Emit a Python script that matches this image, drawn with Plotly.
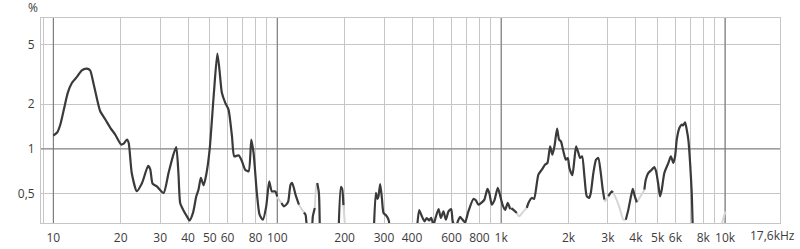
import plotly.graph_objects as go
import math

# ---- data (frequency in Hz, THD in %, 1 = solid reading, 0 = faint reading) ----
freq = [10, 10.4, 10.75, 11.1, 11.6, 12.1, 12.8, 13.4, 14.1, 14.6, 15.1, 15.7, 16.2, 17.1, 18.0, 18.9,
        20.1, 20.6, 21.3, 21.7, 22.4, 23.6, 24.9, 26.5, 27.1, 27.75, 29.0, 31.1, 32.7, 34.4, 35.4, 36.2,
        36.9, 38.2, 39.5, 40.6, 42.05, 43.5, 44.5, 45.6, 46.9, 48.2, 49.9, 52.0, 54.0, 55.2, 56.6, 58.6,
        60.6, 62.8, 64.3, 67.2, 69.6, 71.9, 74.5, 76.6, 78.4, 81.1, 83.4, 86.3, 89.3, 92.1, 94.6, 98.0,
        100, 101.8, 104.5, 107.1, 109.7, 112, 114.7, 116.7, 120.7, 125, 128.4, 131.6, 133.8, 137, 142,
        144.2, 147.2, 149.3, 150.9, 153.5, 155, None,
        188, 192.5, 195, 197.5, 200, 202, None,
        270, 275.8, 280.4, 283.3, 288.3, 293.4, 298.3, 305.5, 314, 320, None,
        420, 430.5, 442.6, 454.6, 465.7, 477, 487, 498.6, 511, 525.5, 538.3, 552.6, 566.8, 582, 598.4,
        608, 625, 645, 656, 667, 690, 714, 752, 771, 792, 820, 842, 868.6, 886.8, 908.5, 933, 966, 990,
        1018, 1042, 1071, 1097, 1110, 1135, 1175, 1203, 1258, 1302, 1324, 1371, 1403, 1467, 1520, 1572,
        1610, 1655, 1694, 1730, 1778, 1815, 1850, 1897, 1945, 1985, 2018, 2080, 2124, 2162, 2214, 2253,
        2300, 2355, 2413, 2472, 2515, 2582, 2655, 2717, 2786, 2844, 2892, 2913, 3013, 3120, 3160, 3228,
        3365, 3516, 3604, 3698, 3802, 3873, 3935, 4035, 4102, 4246, 4362, 4426, 4546, 4709, 4832, 4920,
        5036, 5126, 5217, 5358, 5585, 5728, 5875, 5984, 6088, 6253, 6409, 6500, 6630, 6745, 6857, 6982,
        7100, 7180, None,
        9550, 9826, 10050]

thd = [1.23, 1.29, 1.46, 1.79, 2.38, 2.77, 3.07, 3.37, 3.46, 3.37, 2.77, 2.14, 1.79, 1.57, 1.38, 1.25,
       1.07, 1.085, 1.155, 1.10, 0.69, 0.52, 0.59, 0.77, 0.73, 0.585, 0.56, 0.507, 0.69, 0.92, 1.03, 0.69,
       0.43, 0.385, 0.353, 0.331, 0.372, 0.481, 0.533, 0.639, 0.57, 0.673, 0.99, 2.25, 4.36, 3.41, 2.38, 2.04,
       1.835, 1.215, 0.892, 0.906, 0.826, 0.726, 0.708, 1.155, 0.94, 0.507, 0.362, 0.335, 0.412, 0.606, 0.519, 0.519,
       0.48, 0.457, 0.434, 0.412, 0.423, 0.445, 0.576, 0.591, 0.494, 0.423, 0.396, 0.375, 0.362, 0.28, 0.28,
       0.353, 0.402, 0.561, 0.591, 0.507, 0.28, None,
       0.28, 0.556, 0.54, 0.42, 0.33, 0.28, None,
       0.28, 0.507, 0.462, 0.48, 0.582, 0.469, 0.372, 0.36, 0.335, 0.28, None,
       0.28, 0.388, 0.353, 0.327, 0.344, 0.331, 0.345, 0.31, 0.35, 0.395, 0.344, 0.381, 0.335, 0.381, 0.395,
       0.327, 0.30, 0.335, 0.35, 0.34, 0.322, 0.381, 0.462, 0.452, 0.423, 0.438, 0.457, 0.539, 0.501, 0.423, 0.452, 0.548, 0.486,
       0.416, 0.39, 0.434, 0.395, 0.40, 0.39, 0.372, 0.353, 0.381, 0.402, 0.434, 0.469, 0.462, 0.673, 0.726, 0.785,
       0.806, 1.04, 0.916, 1.04, 1.368, 1.155, 1.125, 0.964, 0.848, 0.87, 0.746, 0.666, 0.848, 1.04, 0.94, 0.87,
       0.892, 0.655, 0.481, 0.469, 0.507, 0.69, 0.848, 0.87, 0.69, 0.533, 0.457, 0.445, 0.481, 0.519, 0.51, 0.481,
       0.412, 0.335, 0.335, 0.39, 0.481, 0.539, 0.494, 0.438, 0.457, 0.494, 0.533, 0.622, 0.69, 0.726, 0.757, 0.708,
       0.576, 0.481, 0.533, 0.69, 0.806, 0.892, 0.806, 0.892, 1.155, 1.383, 1.456, 1.44, 1.508, 1.347, 1.155, 0.806,
       0.507, 0.28, None,
       0.28, 0.344, 0.38]

solid = [1] * 64 + \
        [1, 0, 0, 1, 1, 1, 1, 1, 1, 1, 0, 0, 1, 1, 1,
         1, 1, 0, 0, 1, 1, 1,
         1, 1, 1, 1, 0, 0, 1,
         1, 1, 1, 1, 1, 1, 1, 1, 1, 1, 1,
         1, 1, 1, 1, 1, 1, 1, 1, 1, 1, 1, 1, 1, 1, 1,
         1, 1, 1, 1, 1, 1, 1, 1, 1, 1, 1, 1, 1, 1, 1, 1, 1, 1,
         1, 1, 1, 1, 0, 1, 1, 0, 0, 0, 1, 1, 1, 1, 1, 1,
         1, 1, 1, 1, 1, 1, 1, 1, 1, 1, 1, 1, 1, 1, 1, 1,
         1, 1, 1, 1, 1, 1, 1, 1, 1, 1, 1, 0, 0, 1, 1, 0,
         0, 0, 0, 1, 1, 1, 1, 1, 0, 0, 0, 1, 1, 1, 1, 1,
         1, 1, 1, 1, 1, 1, 1, 1, 1, 1, 1, 1, 1, 1, 1, 1,
         1, 1, 1,
         0, 0, 0]

x_tick_vals = [9, 10, 20, 30, 40, 50, 60, 70, 80, 90, 100, 200, 300, 400, 500, 600, 700, 800, 900,
               1000, 2000, 3000, 4000, 5000, 6000, 7000, 8000, 9000, 10000]
x_tick_text = ["", "10", "20", "30", "40", "50", "60", "", "80", "", "100", "200", "300", "400", "",
               "600", "", "800", "", "1k", "2k", "3k", "4k", "5k", "6k", "", "8k", "", "10k"]
x_end_label = "17,6kHz"
y_tick_vals = [0.5, 1, 2, 5]
y_tick_text = ["0,5", "1", "2", "5"]
decades = [10, 100, 1000, 10000]

# ---- split into solid / faint runs ----
def split_runs(xs, ys, q):
    out = {1: ([], []), 0: ([], [])}
    for i in range(1, len(xs)):
        if xs[i] is None or xs[i - 1] is None:
            continue
        tx, ty = out[q[i]]
        if tx and tx[-1] == xs[i - 1]:
            tx.append(xs[i]); ty.append(ys[i])
        else:
            if tx:
                tx.append(None); ty.append(None)
            tx.extend([xs[i - 1], xs[i]]); ty.extend([ys[i - 1], ys[i]])
    return out

runs = split_runs(freq, thd, solid)

YLO, YHI = -0.497, 0.879
XLO, XHI = math.log10(8.81), math.log10(17600)

fig = go.Figure()

# darker decade / 1% reference lines
vx, vy = [], []
for d in decades:
    vx += [d, d, None]
    vy += [10 ** YLO, 10 ** YHI, None]
fig.add_trace(go.Scatter(x=vx, y=vy, mode="lines", line=dict(color="#6f6f6f", width=1),
                         hoverinfo="skip", showlegend=False))
fig.add_trace(go.Scatter(x=[10 ** XLO, 10 ** XHI], y=[1, 1], mode="lines",
                         line=dict(color="#7a7a7a", width=1), hoverinfo="skip", showlegend=False))

fig.add_trace(go.Scatter(x=runs[0][0], y=runs[0][1], mode="lines",
                         line=dict(color="#d6d6d6", width=2, shape="spline", smoothing=0.6),
                         hoverinfo="skip", showlegend=False))
fig.add_trace(go.Scatter(x=runs[1][0], y=runs[1][1], mode="lines",
                         line=dict(color="#3a3a3a", width=2.2, shape="spline", smoothing=0.6),
                         hoverinfo="skip", showlegend=False))

font = dict(family="Open Sans, Noto Sans, sans-serif", size=12, color="#3c3c3c")

fig.update_layout(
    template="none",
    width=800, height=249,
    margin=dict(l=41, r=20, t=18, b=26, pad=0),
    paper_bgcolor="white", plot_bgcolor="white",
    font=font,
    xaxis=dict(type="log", range=[XLO, XHI], tickmode="array", tickvals=x_tick_vals,
               ticktext=x_tick_text, showgrid=True, gridcolor="#c6c6c6", gridwidth=1,
               zeroline=False, showline=True, linecolor="#c6c6c6", linewidth=1, mirror=True,
               ticks="", ticklabelstandoff=4, automargin=False, tickfont=font, fixedrange=True),
    yaxis=dict(type="log", range=[YLO, YHI], tickmode="array", tickvals=y_tick_vals,
               ticktext=y_tick_text, showgrid=True, gridcolor="#c6c6c6", gridwidth=1,
               zeroline=False, showline=True, linecolor="#c6c6c6", linewidth=1, mirror=True,
               ticks="", ticklabelstandoff=3, automargin=False, tickfont=font, fixedrange=True),
    annotations=[
        dict(text="%", xref="paper", yref="paper", x=-0.011, y=1.05,
             xanchor="center", yanchor="middle", showarrow=False, font=font),
        dict(text=x_end_label, xref="paper", yref="paper", x=1.0235, y=-0.063,
             xanchor="right", yanchor="middle", showarrow=False, font=font),
    ],
)

fig.write_html("out.html")
